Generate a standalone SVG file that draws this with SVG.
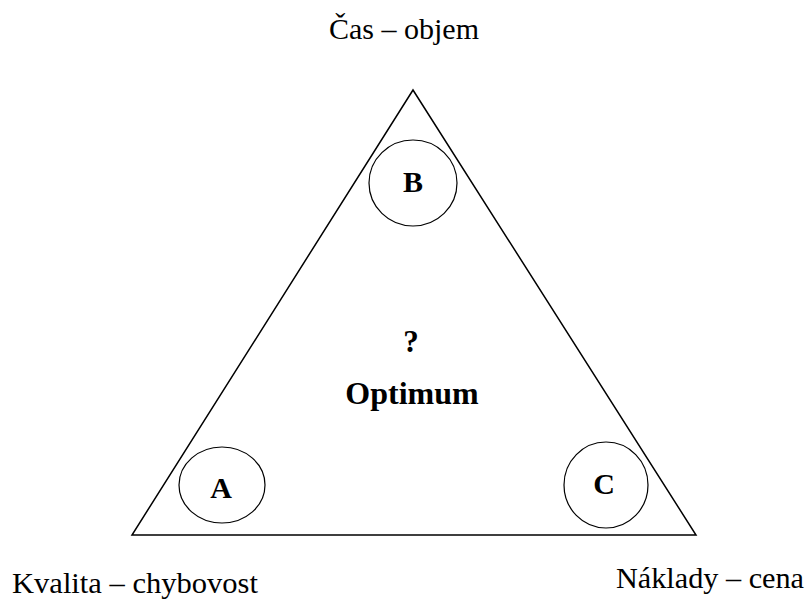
<svg xmlns="http://www.w3.org/2000/svg" width="807" height="603" viewBox="0 0 807 603">
<style>
.l{font-family:"Liberation Serif","Times New Roman",serif;font-size:30px;fill:#000}
.b{font-family:"Liberation Serif","Times New Roman",serif;font-size:30px;font-weight:bold;fill:#000;text-anchor:middle}
.s{fill:none;stroke:#000;stroke-width:1.5}
.c{fill:#fff;stroke:#000;stroke-width:1.2}
</style>
<rect width="807" height="603" fill="#fff"/>
<g id="triangle"><polygon class="s" points="413,90 132,535 696,535"/></g>
<g id="nodeB"><ellipse class="c" cx="413" cy="183" rx="44" ry="43"/><text class="b" x="413" y="192">B</text></g>
<g id="nodeA"><ellipse class="c" cx="222" cy="485" rx="43" ry="38"/><text class="b" x="221" y="498">A</text></g>
<g id="nodeC"><ellipse class="c" cx="606" cy="485" rx="42" ry="43"/><text class="b" x="604" y="494">C</text></g>
<g id="center"><text class="b" x="411" y="352" style="font-size:31px">?</text><text class="b" x="412" y="404" style="font-size:32px">Optimum</text></g>
<g id="labels">
<text class="l" x="404" y="39" text-anchor="middle">Čas – objem</text>
<text class="l" x="12" y="593" textLength="246" lengthAdjust="spacingAndGlyphs">Kvalita – chybovost</text>
<text class="l" x="616" y="588" textLength="188" lengthAdjust="spacingAndGlyphs">Náklady – cena</text>
</g>
</svg>
